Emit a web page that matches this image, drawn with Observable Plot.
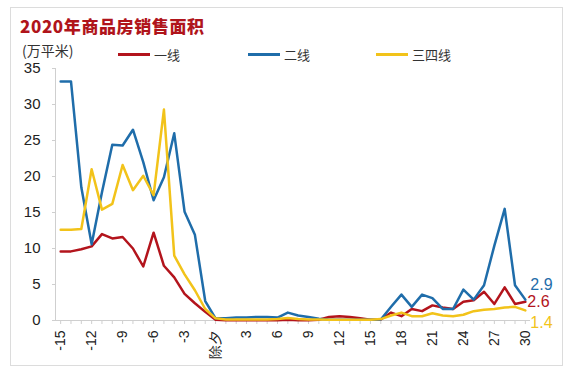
<!DOCTYPE html>
<html>
<head>
<meta charset="utf-8">
<script src="https://cdn.jsdelivr.net/npm/d3@7"></script>
<script src="https://cdn.jsdelivr.net/npm/@observablehq/plot@0.6"></script>
<style>
  html, body { margin: 0; padding: 0; background: #fff; }
  #wrap { position: relative; width: 571px; height: 373px; overflow: hidden; font-family: "Liberation Sans", Arial, sans-serif; }
  #frame { position: absolute; left: 10px; top: 7px; width: 551px; height: 357px; border: 1px solid #dcdcdc; }
  #title { position: absolute; left: 20px; top: 14px; font-family: "Noto Sans CJK SC", sans-serif; font-weight: 900; font-size: 17px; letter-spacing: 0.6px; color: #B0141B; line-height: 24px; white-space: nowrap; }
  #unit { position: absolute; left: 22px; top: 41px; font-family: "Noto Sans CJK SC", sans-serif; font-size: 14px; color: #333; line-height: 18px; }
  .leg { position: absolute; top: 45px; height: 18px; display: flex; align-items: center; font-family: "Noto Sans CJK SC", sans-serif; font-size: 13px; color: #333; }
  .leg span.sw { display: inline-block; width: 32px; height: 3px; margin-right: 4px; }
  #chart { position: absolute; left: 0; top: 62px; }
</style>
</head>
<body>
<div id="wrap">
  <div id="frame"></div>
  <div id="title">2020年商品房销售面积</div>
  <div id="unit">(万平米)</div>
  <div id="legend"></div>
  <div id="chart"></div>
</div>
<script>
// ---- data ----
const days = [-15,-14,-13,-12,-11,-10,-9,-8,-7,-6,-5,-4,-3,-2,-1,0,1,2,3,4,5,6,7,8,9,10,11,12,13,14,15,16,17,18,19,20,21,22,23,24,25,26,27,28,29,30];
const seriesNames = ["一线", "二线", "三四线"];
const seriesColors = ["#B3141C", "#1F6DAA", "#F2C31A"];
const tier1 = [9.6,9.6,9.9,10.3,12.0,11.4,11.6,10.0,7.5,12.2,7.6,6.0,3.7,2.4,1.2,0.1,0.05,0.05,0.05,0.05,0.05,0.05,0.1,0.05,0.05,0.1,0.5,0.6,0.5,0.3,0.1,0.15,1.1,0.6,1.6,1.3,2.1,1.8,1.6,2.6,2.8,4.0,2.3,4.6,2.3,2.6];
const tier2 = [33.2,33.2,18.5,10.6,17.8,24.4,24.3,26.5,22.0,16.7,19.9,26.0,15.1,11.9,2.7,0.3,0.3,0.4,0.4,0.5,0.5,0.4,1.1,0.7,0.5,0.25,0.1,0.1,0.1,0.1,0.1,0.15,1.9,3.6,1.9,3.6,3.1,1.6,1.6,4.3,2.9,4.9,10.4,15.5,4.9,2.9];
const tier34 = [12.6,12.6,12.7,21.0,15.4,16.2,21.6,18.1,20.1,17.4,29.3,9.0,6.4,4.2,1.6,0.3,0.15,0.15,0.15,0.15,0.15,0.2,0.35,0.2,0.15,0.15,0.1,0.1,0.1,0.1,0.1,0.2,0.7,1.1,0.6,0.6,1.0,0.7,0.6,0.8,1.3,1.5,1.6,1.8,1.9,1.4];
const yTicks = [0,5,10,15,20,25,30,35];
const xLabelTicks = [-15,-12,-9,-6,-3,0,3,6,9,12,15,18,21,24,27,30];
const zeroLabel = "除夕";

// ---- build tables ----
const allSeries = [tier1, tier2, tier34];
const rows = [];
allSeries.forEach((vals, i) => vals.forEach((v, j) => rows.push({day: days[j], value: v, series: seriesNames[i]})));
const lastDay = days[days.length - 1];
const ends = allSeries.map((vals, i) => ({series: seriesNames[i], day: lastDay, value: vals[vals.length - 1]}));
const endOffsets = [[2, 0], [5, -15], [5, 12]];

// ---- legend ----
const legend = document.getElementById("legend");
const legX = [118, 248, 376];
seriesNames.forEach((n, i) => {
  const d = document.createElement("div");
  d.className = "leg";
  d.style.left = legX[i] + "px";
  d.innerHTML = `<span class="sw" style="background:${seriesColors[i]}"></span><span>${n}</span>`;
  legend.appendChild(d);
});

// ---- chart ----
const chart = Plot.plot({
  width: 571,
  height: 311,
  marginLeft: 55,
  marginRight: 41,
  marginTop: 6,
  marginBottom: 53,
  style: {fontFamily: "'Liberation Sans', Arial, sans-serif", fontSize: "14px", color: "#222", background: "transparent", overflow: "visible"},
  x: {domain: [-15.5, 30.5]},
  y: {domain: [0, 35]},
  color: {domain: seriesNames, range: seriesColors},
  marks: [
    Plot.ruleX([-15.5], {stroke: "#cfcfcf"}),
    Plot.ruleY([0], {stroke: "#cfcfcf"}),
    Plot.axisY({ticks: yTicks, tickSize: 3, tickPadding: 12, stroke: "#cfcfcf", fill: "#222", fontSize: 15, tickFormat: d => String(d), label: null}),
    Plot.axisX({ticks: days, tickSize: 4, stroke: "#cfcfcf", tickFormat: () => "", label: null}),
    Plot.axisX({ticks: xLabelTicks, tickSize: 0, tickPadding: 10, tickRotate: -90, fill: "#222", fontSize: 14,
      tickFormat: d => d === 0 ? zeroLabel : String(d), label: null}),
    Plot.line(rows, {x: "day", y: "value", z: "series", stroke: "series", strokeWidth: 2.5}),
    ...ends.map((e, i) => Plot.text([e], {x: "day", y: "value", text: d => d.value.toFixed(1), fill: "series",
      textAnchor: "start", fontSize: 16, dx: endOffsets[i][0], dy: endOffsets[i][1]}))
  ]
});
document.getElementById("chart").appendChild(chart);
</script>
</body>
</html>
